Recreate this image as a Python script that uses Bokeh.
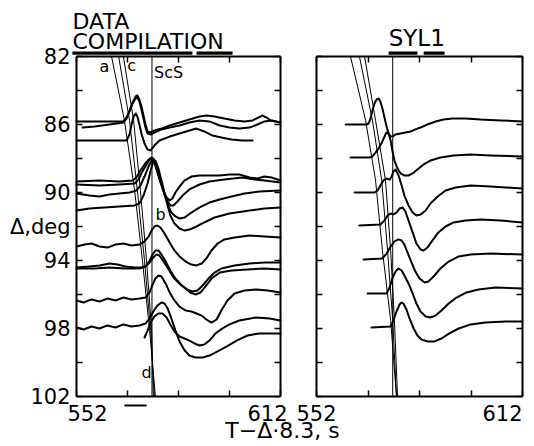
from bokeh.plotting import figure
from bokeh.models import Range1d, LinearAxis, FixedTicker
from bokeh.embed import file_html
from bokeh.resources import INLINE
from bokeh.core.properties import value

FONT = "DejaVu Sans"

# ---------------- axes / texts ----------------
t_ticks = [552, 567, 582, 597, 612]
t_labels = ["552", "612"]
deg_ticks = [82, 84, 86, 88, 90, 92, 94, 96, 98, 100, 102]
deg_labels = ["82", "", "86", "", "90", "Δ,deg", "94", "", "98", "", "102"]
x_title = "T−Δ·8.3, s"
comp_title = ["DATA", "COMPILATION"]
syl_title = "SYL1"

# ---------------- DATA COMPILATION (time s, distance deg) ----------------
comp_1_t = [552, 557.3, 561.7, 565.8, 566.7, 567.6, 568.5, 569.4, 569.9, 570.5, 571.1, 571.7, 572.3, 572.9, 573.8, 574.9, 577.0, 579.4, 582.3, 585.2, 588.2, 590.2, 592.6, 595.5, 598.5, 601.4, 603.8, 605.5, 606.7, 607.9, 609.1, 612]
comp_1_d = [85.82, 85.82, 85.82, 85.82, 85.59, 85.18, 84.71, 84.35, 84.29, 84.53, 84.94, 85.47, 86.0, 86.41, 86.47, 86.35, 86.24, 86.06, 85.88, 85.71, 85.53, 85.47, 85.53, 85.65, 85.76, 85.82, 85.76, 85.59, 85.47, 85.59, 85.76, 85.88]
comp_2_t = [553.8, 557.3, 561.7, 565.8, 566.7, 567.6, 568.5, 569.4, 569.9, 570.5, 571.1, 571.7, 572.3, 572.9, 573.8, 574.9, 577.0, 579.4, 582.3, 585.2, 588.2, 591.1, 594.1, 597.0, 599.9, 602.9, 605.2, 607.3, 609.4, 612]
comp_2_d = [86.18, 86.12, 86.0, 85.88, 85.65, 85.24, 84.76, 84.47, 84.41, 84.65, 85.12, 85.65, 86.18, 86.53, 86.59, 86.47, 86.29, 86.18, 86.06, 85.88, 85.76, 85.82, 86.06, 86.18, 86.24, 86.18, 86.0, 85.82, 85.76, 85.88]
comp_3_t = [552, 558.8, 566.7, 567.6, 568.2, 568.8, 569.4, 569.9, 570.5, 571.1, 572.0, 572.9, 573.8, 574.9, 576.4, 579.4, 582.3, 585.2, 587.3, 589.6, 592.0, 594.6, 597.6, 600.8, 603.8]
comp_3_d = [86.94, 86.94, 86.94, 86.59, 86.0, 85.53, 85.35, 85.53, 86.0, 86.53, 87.12, 87.47, 87.53, 87.24, 86.94, 86.71, 86.53, 86.35, 86.24, 86.41, 86.65, 86.76, 86.88, 86.94, 86.94]
comp_4_t = [552, 558.8, 564.6, 568.5, 569.6, 570.8, 572.0, 573.2, 574.1, 574.9, 575.8, 576.7, 577.6, 578.5, 579.4, 580.2, 581.1, 582.3, 583.8, 585.8, 588.2, 591.1, 594.1, 597.0, 599.9, 602.9, 605.2, 607.3, 609.4, 612]
comp_4_d = [89.35, 89.29, 89.35, 89.29, 89.12, 88.71, 88.35, 88.06, 87.94, 88.24, 88.82, 89.41, 89.94, 90.29, 90.47, 90.35, 90.0, 89.65, 89.29, 89.06, 89.0, 89.0, 89.0, 88.94, 88.94, 89.12, 89.18, 89.06, 89.12, 89.29]
comp_5_t = [552, 558.8, 564.6, 569.1, 570.2, 571.4, 572.6, 573.5, 574.4, 575.2, 576.1, 577.0, 577.9, 578.8, 579.6, 580.5, 581.7, 583.2, 585.2, 588.2, 591.1, 595.5, 600.8, 604.4, 607.3, 612]
comp_5_d = [89.53, 89.59, 89.53, 89.47, 89.24, 88.76, 88.35, 88.06, 88.0, 88.35, 88.94, 89.53, 90.12, 90.53, 90.76, 90.76, 90.53, 90.18, 89.82, 89.53, 89.35, 89.24, 89.12, 89.24, 89.29, 89.41]
comp_6_t = [552, 555.8, 558.8, 561.7, 564.6, 567.6, 569.6, 570.8, 572.0, 573.2, 574.1, 574.6, 575.5, 576.4, 577.3, 578.2, 579.1, 579.9, 581.1, 582.3, 583.8, 585.8, 588.2, 591.1, 594.1, 597.6, 601.4, 605.8, 612]
comp_6_d = [90.06, 90.18, 90.24, 90.12, 90.06, 90.0, 89.88, 89.59, 89.06, 88.47, 88.12, 88.0, 88.41, 89.0, 89.65, 90.29, 90.82, 91.18, 91.41, 91.53, 91.47, 91.18, 90.88, 90.59, 90.41, 90.24, 90.06, 89.94, 89.88]
comp_7_t = [552, 555.8, 560.2, 564.6, 569.1, 570.5, 571.7, 572.9, 573.8, 574.6, 575.2, 576.1, 577.0, 577.9, 578.8, 579.6, 580.8, 582.3, 583.8, 585.2, 587.3, 589.6, 592.6, 597.0, 602.9, 607.3, 612]
comp_7_d = [91.06, 90.94, 90.88, 90.82, 90.76, 90.65, 90.18, 89.47, 88.71, 88.18, 88.12, 88.59, 89.29, 90.06, 90.76, 91.35, 91.82, 92.12, 92.24, 92.18, 92.0, 91.76, 91.47, 91.24, 91.06, 90.94, 90.88]
comp_8_t = [552, 554.4, 556.4, 558.8, 561.1, 563.5, 565.8, 568.2, 570.5, 572.0, 573.2, 574.1, 574.9, 575.8, 576.7, 577.9, 579.4, 580.8, 582.3, 584.1, 585.8, 587.3, 588.8, 590.2, 591.7, 593.5, 595.5, 598.5, 602.9, 607.3, 612]
comp_8_d = [93.18, 93.06, 93.0, 93.18, 93.24, 93.06, 93.0, 93.12, 93.06, 92.88, 92.59, 92.24, 92.0, 91.94, 92.06, 92.41, 92.94, 93.41, 93.76, 94.06, 94.24, 94.29, 94.18, 93.88, 93.41, 93.0, 92.76, 92.65, 92.53, 92.59, 92.65]
comp_9_t = [552, 555.8, 558.8, 561.7, 564.1, 566.4, 569.1, 571.4, 572.6, 573.5, 574.4, 575.2, 576.1, 577.0, 578.2, 579.6, 581.1, 582.9, 584.6, 586.1, 587.6, 589.1, 590.8, 592.6, 594.6, 598.5, 602.9, 607.3, 612]
comp_9_d = [94.41, 94.35, 94.29, 94.18, 94.24, 94.35, 94.41, 94.41, 94.29, 94.0, 93.65, 93.41, 93.41, 93.65, 94.06, 94.59, 95.06, 95.47, 95.71, 95.82, 95.76, 95.47, 95.06, 94.71, 94.47, 94.29, 94.18, 94.12, 94.12]
comp_10_t = [552, 557.3, 561.7, 566.1, 570.5, 572.3, 573.5, 574.6, 575.5, 576.4, 577.6, 579.1, 580.5, 582.3, 584.1, 585.5, 587.0, 588.5, 589.9, 591.7, 594.1, 597.6, 602.3, 607.3, 612]
comp_10_d = [94.47, 94.47, 94.41, 94.47, 94.47, 94.35, 94.12, 93.82, 93.65, 93.71, 94.06, 94.53, 95.0, 95.35, 95.65, 95.88, 96.0, 95.88, 95.53, 95.06, 94.71, 94.59, 94.53, 94.47, 94.53]
comp_11_t = [552, 554.1, 556.4, 558.8, 561.1, 563.5, 565.8, 568.2, 570.5, 572.3, 573.5, 574.4, 575.2, 576.1, 577.0, 578.2, 579.4, 580.8, 582.3, 584.1, 585.8, 587.3, 588.8, 590.2, 591.7, 593.2, 594.6, 596.4, 598.5, 601.4, 604.9, 608.2, 612]
comp_11_d = [96.35, 96.47, 96.29, 96.41, 96.24, 96.35, 96.18, 96.29, 96.24, 96.18, 95.88, 95.41, 95.06, 94.88, 94.94, 95.35, 95.88, 96.35, 96.71, 96.94, 97.0, 97.12, 97.24, 97.47, 97.65, 97.47, 96.94, 96.35, 95.94, 95.76, 95.71, 95.76, 95.88]
comp_12_t = [552, 554.1, 556.4, 558.8, 561.1, 563.5, 565.8, 568.2, 570.5, 572.3, 573.5, 574.6, 575.8, 577.0, 577.9, 578.8, 579.9, 581.1, 582.3, 583.8, 585.2, 587.0, 589.1, 591.1, 593.5, 596.1, 599.1, 602.3, 605.8, 612]
comp_12_d = [97.94, 98.06, 97.88, 98.0, 97.82, 97.94, 97.76, 97.88, 97.82, 97.71, 97.41, 97.0, 96.65, 96.47, 96.53, 96.82, 97.41, 98.12, 98.76, 99.29, 99.59, 99.71, 99.71, 99.59, 99.35, 99.06, 98.71, 98.41, 98.29, 98.29]
comp_13_t = [572.0, 572.9, 573.8, 574.9, 576.1, 577.3, 578.5, 579.6, 580.8, 582.3, 583.8, 585.2, 586.7, 588.2, 589.6, 591.1, 592.9, 594.9, 597.0, 599.9, 604.9, 608.8, 612]
comp_13_d = [98.53, 98.12, 97.65, 97.29, 97.12, 97.12, 97.35, 97.76, 98.18, 98.47, 98.59, 98.71, 98.88, 99.0, 98.94, 98.71, 98.29, 98.0, 97.76, 97.53, 97.35, 97.41, 97.53]

comp_slant_d = [82, 85.76, 89.88, 94, 98.12, 102]
comp_a_t = [562.3, 566.1, 569.1, 571.4, 573.5, 575.2]
comp_b_t = [564.4, 567.6, 569.9, 572.0, 573.8, 574.9]
comp_c_t = [565.8, 568.8, 570.8, 572.6, 574.1, 574.6]
scs_t = 574.2

comp_phase_names = ["a", "c", "ScS", "b", "d"]
comp_phase_t = [560.2, 568.2, 579.1, 576.7, 572.6]
comp_phase_d = [82.6, 82.55, 82.95, 91.3, 100.6]

comp_top_bar_start = [550.8, 587.3]
comp_top_bar_end = [586.1, 597.9]
comp_low_bar_start = [566.1]
comp_low_bar_end = [572.6]

# ---------------- SYL1 synthetics ----------------
syl_86_t = [560.5, 566.6, 567.2, 567.7, 568.3, 568.9, 569.5, 570.1, 570.6, 571.2, 571.8, 572.4, 573.0, 573.6, 574.1, 575.0, 576.5, 577.9, 579.4, 580.8, 582.3, 584.3, 586.7, 589.0, 591.6, 595.4, 599.8, 605.6, 612]
syl_86_d = [86.0, 86.0, 85.94, 85.65, 85.18, 84.76, 84.53, 84.47, 84.65, 85.06, 85.59, 86.12, 86.53, 86.71, 86.71, 86.59, 86.53, 86.47, 86.41, 86.29, 86.18, 86.0, 85.82, 85.71, 85.65, 85.65, 85.71, 85.76, 85.82]
syl_88_t = [561.9, 567.4, 568.3, 569.2, 570.1, 570.9, 571.8, 572.4, 573.0, 573.6, 574.1, 574.7, 575.6, 576.5, 577.6, 578.8, 580.0, 581.4, 583.2, 585.2, 588.1, 591.9, 596.9, 602.7, 612]
syl_88_d = [87.94, 87.94, 87.88, 87.65, 87.41, 87.12, 86.71, 86.47, 86.53, 86.94, 87.53, 88.12, 88.59, 88.88, 89.0, 89.0, 88.88, 88.65, 88.35, 88.12, 87.94, 87.82, 87.76, 87.82, 87.88]
syl_90_t = [563.1, 568.9, 569.8, 570.6, 571.5, 572.4, 573.3, 573.9, 574.4, 575.0, 575.9, 576.8, 577.6, 578.8, 580.0, 581.1, 582.3, 583.8, 585.2, 587.3, 589.6, 592.5, 596.9, 602.7, 612]
syl_90_d = [90.0, 90.0, 89.88, 89.59, 89.29, 89.18, 89.24, 89.06, 88.76, 88.65, 89.0, 89.59, 90.18, 90.76, 91.18, 91.35, 91.29, 91.06, 90.65, 90.24, 89.88, 89.71, 89.59, 89.65, 89.76]
syl_92_t = [564.5, 570.6, 571.8, 572.7, 573.6, 574.4, 575.3, 576.2, 577.1, 577.9, 578.8, 580.0, 581.1, 582.3, 583.2, 584.3, 585.8, 587.5, 589.6, 591.9, 595.4, 599.8, 605.6, 612]
syl_92_d = [91.94, 91.88, 91.65, 91.35, 91.24, 91.29, 91.18, 90.94, 90.88, 91.12, 91.65, 92.35, 93.0, 93.35, 93.41, 93.24, 92.82, 92.35, 92.0, 91.76, 91.65, 91.59, 91.65, 91.76]
syl_94_t = [565.7, 571.2, 572.4, 573.6, 574.7, 575.9, 576.8, 577.6, 578.5, 579.7, 580.8, 582.0, 583.5, 584.6, 586.1, 588.1, 590.5, 593.4, 596.9, 602.7, 612]
syl_94_d = [93.94, 93.88, 93.59, 93.18, 92.88, 92.76, 92.82, 93.06, 93.53, 94.12, 94.65, 95.06, 95.29, 95.24, 94.94, 94.47, 94.06, 93.76, 93.65, 93.59, 93.65]
syl_96_t = [566.9, 572.4, 573.3, 574.1, 575.0, 575.9, 576.8, 577.6, 578.8, 580.0, 581.1, 582.3, 583.8, 585.2, 586.7, 588.4, 590.5, 592.8, 595.7, 599.2, 604.1, 612]
syl_96_d = [95.94, 95.94, 95.59, 95.06, 94.65, 94.47, 94.59, 94.88, 95.35, 95.94, 96.53, 97.0, 97.29, 97.35, 97.24, 96.94, 96.53, 96.18, 95.88, 95.71, 95.59, 95.65]
syl_98_t = [568.0, 573.6, 574.4, 575.3, 576.2, 576.8, 577.3, 578.2, 579.1, 580.3, 581.4, 582.6, 584.3, 586.4, 588.4, 590.7, 593.4, 596.9, 601.2, 607.1, 612]
syl_98_d = [97.94, 97.88, 97.53, 97.0, 96.59, 96.47, 96.53, 96.88, 97.41, 98.0, 98.41, 98.65, 98.76, 98.76, 98.59, 98.29, 98.0, 97.76, 97.65, 97.59, 97.59]

syl_slant_d = [82, 85.76, 89.29, 93.41, 97.53, 102]
syl_a_t = [561.9, 566.3, 569.2, 571.2, 573.6, 575.3]
syl_b_t = [564.5, 568.3, 571.0, 572.7, 574.2, 575.3]
syl_c_t = [566.0, 569.2, 572.1, 573.6, 574.7, 575.6]
syl_top_bar_start = [573.0, 583.2]
syl_top_bar_end = [581.4, 589.3]

comp_traces = [(comp_1_t, comp_1_d), (comp_2_t, comp_2_d), (comp_3_t, comp_3_d), (comp_4_t, comp_4_d),
               (comp_5_t, comp_5_d), (comp_6_t, comp_6_d), (comp_7_t, comp_7_d), (comp_8_t, comp_8_d),
               (comp_9_t, comp_9_d), (comp_10_t, comp_10_d), (comp_11_t, comp_11_d), (comp_12_t, comp_12_d),
               (comp_13_t, comp_13_d)]
syl_traces = [(syl_86_t, syl_86_d), (syl_88_t, syl_88_d), (syl_90_t, syl_90_d), (syl_92_t, syl_92_d),
              (syl_94_t, syl_94_d), (syl_96_t, syl_96_d), (syl_98_t, syl_98_d)]

# ---------------- layout (pixels) ----------------
W, H = 534, 446
L_X0, L_X1 = 76, 280      # left panel box
R_X0, R_X1 = 316, 522     # right panel box
Y0, Y1 = 56, 396          # both panels
T0, T1 = t_ticks[0], t_ticks[-1]
D0, D1 = deg_ticks[0], deg_ticks[-1]
lk = (L_X1 - L_X0) / (T1 - T0)
rk = (R_X1 - R_X0) / (T1 - T0)
dk = (Y1 - Y0) / (D1 - D0)

p = figure(width=W, height=H,
           x_range=Range1d(T0 - L_X0 / lk, T0 + (W - L_X0) / lk),
           y_range=Range1d(D0 + (H - Y0) / dk, D0 - Y0 / dk),
           x_axis_type=None, y_axis_type=None, output_backend="svg", toolbar_location=None,
           title=None, min_border=0, outline_line_color=None)
p.extra_x_ranges = {"syl": Range1d(T0 - R_X0 / rk, T0 + (W - R_X0) / rk)}


def add_axis(side, ticks, overrides, loc, bounds, xr):
    ax = LinearAxis(ticker=FixedTicker(ticks=ticks), fixed_location=loc, bounds=bounds,
                    x_range_name=xr)
    ax.major_label_overrides = overrides
    ax.axis_line_width = 2
    ax.axis_line_color = "black"
    ax.major_tick_in = 6
    ax.major_tick_out = 0
    ax.major_tick_line_width = 1.5
    ax.major_tick_line_color = "black"
    ax.minor_tick_line_color = None
    ax.major_label_text_font = FONT
    ax.major_label_text_font_size = "21px"
    ax.major_label_text_color = "black"
    ax.major_label_standoff = 6
    p.add_layout(ax, side)


blank_t = {k: "" for k in t_ticks}
blank_d = {k: "" for k in deg_ticks}
for xr in ["default", "syl"]:
    add_axis("below", t_ticks, blank_t, D1, (T0, T1), xr)
    add_axis("above", t_ticks, blank_t, D0, (T0, T1), xr)
    add_axis("right", deg_ticks, blank_d, T1, (D0, D1), xr)
    add_axis("left", deg_ticks,
             dict(zip(deg_ticks, deg_labels)) if xr == "default" else blank_d,
             T0, (D0, D1), xr)

# time tick labels (the reference sets them slightly inward of the end ticks)
tick_lab_y = [D1 + 16 / dk] * 2
p.text(x=[T0, T1], y=tick_lab_y, text=t_labels, x_offset=[11, -13], text_font=value(FONT),
       text_font_size="21px", text_align="center", text_baseline="middle", text_color="black")
p.text(x=[T0, T1], y=tick_lab_y, text=t_labels, x_offset=[0, -20], text_font=value(FONT),
       text_font_size="21px", text_align="center", text_baseline="middle", text_color="black",
       x_range_name="syl")

# ---- left panel: data compilation ----
for t, d in comp_traces:
    p.line(t, d, line_width=2, line_color="black", line_join="round", line_cap="round")
for st in [comp_a_t, comp_b_t, comp_c_t]:
    p.line(st, comp_slant_d, line_width=1, line_color="black")
p.line([scs_t, scs_t], [D0, D1], line_width=1, line_color="black")
p.text(x=comp_phase_t, y=comp_phase_d, text=comp_phase_names, text_font=value(FONT),
       text_font_size="16px", text_align="center", text_baseline="middle", text_color="black")
p.quad(left=comp_top_bar_start, right=comp_top_bar_end, top=D0 - 0.3, bottom=D0 - 0.1,
       fill_color="black", line_color=None)
p.quad(left=comp_low_bar_start, right=comp_low_bar_end, top=D1 + 0.47, bottom=D1 + 0.59,
       fill_color="black", line_color=None)
p.text(x=[T0 - 4 / lk, T0 - 4 / lk], y=[D0 - 35 / dk, D0 - 15.5 / dk], text=comp_title,
       text_font=value(FONT), text_font_size="22px", text_align="left",
       text_baseline="middle", text_color="black")

# ---- right panel: SYL1 ----
for t, d in syl_traces:
    p.line(t, d, line_width=2, line_color="black", line_join="round", line_cap="round",
           x_range_name="syl")
for st in [syl_a_t, syl_b_t, syl_c_t]:
    p.line(st, syl_slant_d, line_width=1, line_color="black", x_range_name="syl")
p.line([scs_t, scs_t], [D0, D1], line_width=1, line_color="black", x_range_name="syl")
p.quad(left=syl_top_bar_start, right=syl_top_bar_end, top=D0 - 0.3, bottom=D0 - 0.1,
       fill_color="black", line_color=None, x_range_name="syl")
p.text(x=[(T0 + T1) / 2 - 0.8], y=[D0 - 19 / dk], text=[syl_title], text_font=value(FONT),
       text_font_size="23px", text_align="center", text_baseline="middle",
       text_color="black", x_range_name="syl")

# ---- shared x-axis title ----
p.text(x=[T0 + (282 - L_X0) / lk], y=[D1 + 34 / dk], text=[x_title], text_font=value(FONT),
       text_font_size="22px", text_align="center", text_baseline="middle", text_color="black")

open("out.html", "w").write(file_html(p, INLINE))
